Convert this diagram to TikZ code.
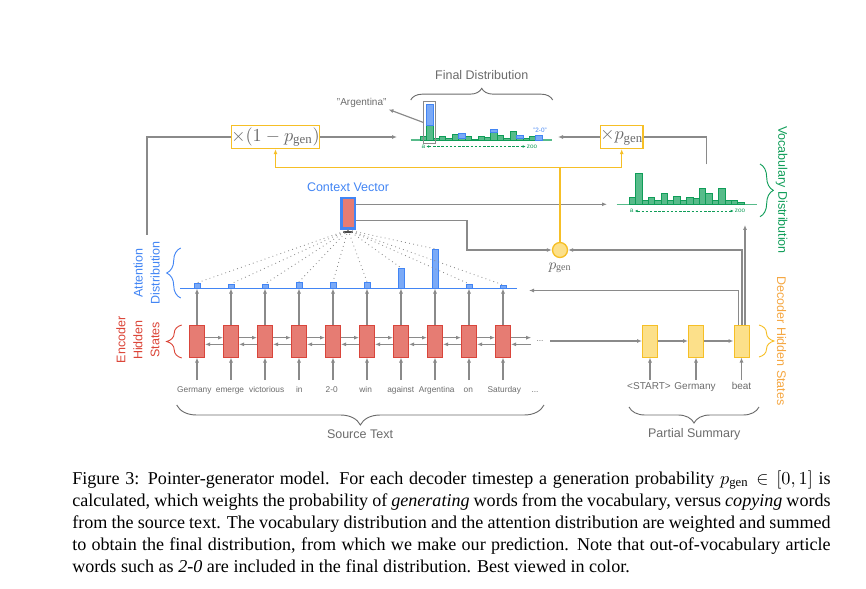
\documentclass[tikz,border=0pt]{standalone}
\usepackage{fontspec}
\setmainfont{Liberation Serif}
\setsansfont{Liberation Sans}
\usetikzlibrary{arrows.meta,decorations.pathreplacing,calc}
\definecolor{lgray}{HTML}{8A8A8A}
\definecolor{tgray}{HTML}{6B6B6B}
\definecolor{encred}{HTML}{E67C73}
\definecolor{encredd}{HTML}{D9453B}
\definecolor{attblue}{HTML}{4285F4}
\definecolor{attbluel}{HTML}{7BAAF7}
\definecolor{vgreen}{HTML}{0F9D58}
\definecolor{vgreenl}{HTML}{57BB8A}
\definecolor{dyel}{HTML}{F6BF26}
\definecolor{dyell}{HTML}{FCE08A}
\definecolor{dorange}{HTML}{F5A742}
\definecolor{redtxt}{HTML}{DB4437}
\tikzset{
  gline/.style={draw=lgray, line width=0.7pt},
  garrow/.style={gline, -{Latex[length=3pt,width=2.4pt]}},
  encbox/.style={draw=encredd, fill=encred, line width=0.6pt, minimum width=9pt, minimum height=19.2pt, inner sep=0pt},
  decbox/.style={draw=dyel, fill=dyell, line width=0.6pt, minimum width=9pt, minimum height=19.2pt, inner sep=0pt},
  attbar/.style={draw=attblue, fill=attbluel, line width=0.4pt, minimum width=3.6pt, inner sep=0pt, anchor=south},
  ctxbox/.style={draw=attblue, fill=encred, line width=1.5pt, minimum width=8.1pt, minimum height=18.3pt, inner sep=0pt},
  word/.style={font=\sffamily\fontsize{5}{6}\selectfont, text=tgray, text height=3.6pt, text depth=1pt, inner xsep=0.5pt, inner ysep=3.5pt},
  dword/.style={font=\sffamily\fontsize{6}{7}\selectfont, text=tgray, text height=4.3pt, text depth=1.2pt, inner xsep=0.5pt, inner ysep=1.5pt},
  title/.style={font=\sffamily\fontsize{7.5}{10.2}\selectfont, text=tgray, inner sep=1pt},
  mbox/.style={draw=dyel, fill=white, line width=0.8pt, text=tgray, inner sep=0pt, minimum height=13.8pt, font=\fontsize{11}{13}\selectfont},
  yline/.style={draw=dyel, line width=0.8pt},
  yarrow/.style={yline, -{Latex[length=3pt,width=2.4pt]}},
  dotl/.style={draw=lgray, line width=0.5pt, dotted},
  brc/.style={decorate, decoration={brace, amplitude=#1}, line width=0.55pt},
  gbar/.style={draw=vgreen, fill=vgreenl, line width=0.35pt},
  bbar/.style={draw=attblue, fill=attbluel, line width=0.35pt},
  tinylbl/.style={font=\sffamily\fontsize{3.8}{4}\selectfont, inner sep=0.5pt},
  darr/.style={draw=vgreen, line width=0.4pt, dash pattern=on 1.5pt off 1pt, {Latex[length=1.8pt,width=1.6pt]}-{Latex[length=1.8pt,width=1.6pt]}},
}
\begin{document}
\begin{tikzpicture}[x=0.6pt,y=-0.6pt]
\useasboundingbox (0,0) rectangle (866,589);

% ---------- encoder ----------
\foreach \i in {1,...,10} \node[encbox] (e\i) at ({163+34*\i},341) {};
\foreach \i/\w/\x in {1/Germany/194.3, 2/emerge/230, 3/victorious/266.7, 4/in/299.3, 5/2-0/331.7, 6/win/365.7, 7/against/400.7, 8/Argentina/436.7, 9/on/468.3, 10/Saturday/504.3}
  \node[word] (w\i) at (\x,390) {\w};
\node[word] (w11) at (535,390) {...};
\foreach \i in {1,...,10} \draw[garrow] (w\i.north -| e\i.south) -- (e\i.south);
\foreach \i/\j in {1/2,2/3,3/4,4/5,5/6,6/7,7/8,8/9,9/10} {
  \draw[garrow] ([yshift=2pt]e\i.east) -- ([yshift=2pt]e\j.west);
  \draw[garrow] ([yshift=-2pt]e\j.west) -- ([yshift=-2pt]e\i.east);
}
\node[word, inner sep=0pt, text height=0pt, text depth=0pt] (edots) at (540,341) {...};
\draw[garrow] ([yshift=2pt]e10.east) -- ([yshift=2pt, xshift=-3pt]edots.west);
\draw[garrow] ([yshift=-2pt, xshift=-3pt]edots.west) -- ([yshift=-2pt]e10.east);

% ---------- decoder ----------
\node[decbox] (d1) at (650,341) {};
\node[decbox] (d2) at (696,341) {};
\node[decbox] (d3) at (741.5,341) {};
\draw[garrow] ([xshift=4pt]edots.east) -- (d1.west);
\draw[garrow] (d1) -- (d2);
\draw[garrow] (d2) -- (d3);
\node[dword] (dw1) at (649,387) {<START>};
\node[dword] (dw2) at (695,387) {Germany};
\node[dword] (dw3) at (741.5,387) {beat};
\draw[garrow] (dw1.north -| d1.south) -- (d1.south);
\draw[garrow] (dw2.north -| d2.south) -- (d2.south);
\draw[garrow] (dw3.north -| d3.south) -- (d3.south);

% ---------- attention ----------
\draw[draw=attblue, line width=0.8pt] (180,288.5) -- (517,288.5);
\coordinate (attR) at (529,290.5);
\foreach \i/\h in {1/3,2/2.4,3/2.4,4/3.6,5/3.6,6/3.6,7/12,8/23.4,9/2.4,10/1.8}
  \node[attbar, minimum height=\h*1pt] (a\i) at ({163+34*\i},288.5) {};
\foreach \i in {1,...,10} \draw[garrow] (e\i.north) -- (a\i.south);

% ---------- context vector ----------
\node[ctxbox] (cv) at (348,213.5) {};
\fill[tgray!70!black] ([xshift=-3pt,yshift=-0.7pt]cv.south) rectangle ([xshift=3pt,yshift=-1.9pt]cv.south);
\node[title, text=attblue] (cvl) at (348,187) {Context Vector};
\foreach \i in {1,...,10} \draw[dotl] (cv.south) -- (a\i.north);

% ---------- p_gen ----------
\node[draw=dyel, fill=dyell, circle, line width=0.8pt, minimum size=9pt, inner sep=0pt] (pg) at (560,250) {};
\node[font=\fontsize{9}{10}\selectfont, text=tgray, inner sep=1pt] (pgl) at (560,268) {$p_{\mathrm{gen}}$};

\coordinate (vocL) at (607,204.3);
\draw[garrow] (cv.east |- vocL) -- (vocL);
\draw[garrow] ([yshift=-4.3pt]cv.east) -- ++(111,0) |- (pg.west);

% ---------- multiplier boxes ----------
\node[mbox, minimum width=50pt] (b1) at (275.5,137) {$\times(1-p_{\mathrm{gen}})$};
\node[mbox, minimum width=25.2pt] (b2) at (621.7,137) {$\times p_{\mathrm{gen}}$};
\coordinate (yj) at (560,167.3);
\draw[yline] (pg.north) -- (yj);
\draw[yarrow] (yj) -| (b1.south);
\draw[yarrow] (yj) -| (b2.south);

\coordinate (attTop) at (147,235);
\draw[gline] (attTop) |- (b1.west);
\coordinate (finL) at (397,137);
\draw[garrow] (b1.east) -- (finL);
\coordinate (finR) at (558,137);
\draw[garrow] (b2.west) -- (finR);
\coordinate (vocTop) at (706.7,164.3);
\draw[gline] (vocTop) |- (b2.east);

% decoder outputs
\draw[garrow] ([xshift=-1.8pt]d3.north) |- (attR);
\draw[garrow] ([xshift=0.3pt]d3.north) |- (pg.east);
\coordinate (vocB) at (745,225);
\draw[garrow] (vocB |- d3.north) -- (vocB);

% ---------- final distribution ----------
\draw[draw=vgreenl, line width=0.7pt] (410.7,140) -- (551.7,140);
\foreach \i/\h in {1/3.33,2/14.33,3/1.67,4/3.33,5/1.67,6/5.67,7/2,8/3.33,9/1,10/3.33,11/2.33,12/7.67,13/5,14/1.67,15/8.33,16/1.5,17/1.67,18/3.33}
  \draw[gbar] ({420+(\i-1)*6.43},140) rectangle ({420+\i*6.43},{140-\h});
\foreach \i/\lo/\hi in {2/14.33/35.67,7/2/6.67,12/7.67/11,16/1.5/4.33,19/0/5}
  \draw[bbar] ({420+(\i-1)*6.43},{140-\lo}) rectangle ({420+\i*6.43},{140-\hi});
\node[draw=lgray, line width=0.6pt, minimum width=6.8pt, minimum height=25pt, inner sep=0pt] (hl) at (429.6,122.5) {};
\node[font=\sffamily\fontsize{6}{7}\selectfont, text=tgray, inner sep=1pt] (argl) at (361.7,102.7) {"Argentina"};
\draw[garrow] (hl.west) -- (argl.south east);
\node[tinylbl, text=vgreen] (fa) at (423.3,146.5) {a};
\node[tinylbl, text=vgreen] (fz) at (532,146.5) {zoo};
\draw[darr] (fa) -- (fz);
\node[tinylbl, text=attblue] (f20) at (540,130) {"2-0"};
\draw[brc=7pt, draw=tgray] (410.7,100) -- (552.7,100);
\node[title] (fdl) at (481.7,75) {Final Distribution};

% ---------- vocabulary distribution ----------
\draw[draw=vgreenl, line width=0.7pt] (616.7,204.3) -- (756.7,204.3);
\foreach \i/\h in {1/7,2/31,3/3.67,4/7,5/3.67,6/11,7/3.67,8/7.67,9/4.33,10/7,11/6,12/16.33,13/11,14/3.67,15/16.33,16/4.33,17/3.67,18/1.67}
  \draw[gbar] ({629+(\i-1)*6.39},204.3) rectangle ({629+\i*6.39},{204.3-\h});
\node[tinylbl, text=vgreen] (va) at (631.7,211) {a};
\node[tinylbl, text=vgreen] (vz) at (740,211) {zoo};
\draw[darr] (va) -- (vz);

% ---------- braces and labels ----------
\draw[brc=8pt, draw=vgreen] (760,164) -- (760,216.7);
\node[title, text=vgreen, rotate=-90] (vdl) at (781.7,190) {Vocabulary Distribution};
\draw[brc=9pt, draw=dyel] (759,325) -- (759,357);
\node[title, text=dorange, rotate=-90] (dhl) at (781.7,341) {Decoder Hidden States};
\draw[brc=9pt, draw=redtxt] (181.7,358) -- (181.7,325);
\node[title, text=redtxt, rotate=90, align=center] (ehl) at (138,340) {Encoder\\Hidden\\States};
\draw[brc=8.4pt, draw=attblue] (180.7,298) -- (180.7,248);
\node[title, text=attblue, rotate=90, align=center] (adl) at (146.7,273) {Attention\\Distribution};
\draw[brc=12pt, draw=tgray] (544,405) -- (176.7,405);
\node[title] (stl) at (360,434) {Source Text};
\draw[brc=9.6pt, draw=tgray] (759,407) -- (629,407);
\node[title] (psl) at (694.3,434) {Partial Summary};

% ---------- caption ----------
\node[anchor=north west, text width=455pt, align=justify, inner sep=0pt, font=\fontsize{10.85}{13.2}\selectfont] (cap) at (72,470)
{Figure 3: Pointer-generator model. For each decoder timestep a generation probability $p_{\mathrm{gen}}\in[0,1]$ is\linebreak
calculated, which weights the probability of \emph{generating} words from the vocabulary, versus \emph{copying} words\linebreak
from the source text. The vocabulary distribution and the attention distribution are weighted and summed\linebreak
to obtain the final distribution, from which we make our prediction. Note that out-of-vocabulary article\linebreak
words such as \emph{2-0} are included in the final distribution. Best viewed in color.};
\end{tikzpicture}
\end{document}
